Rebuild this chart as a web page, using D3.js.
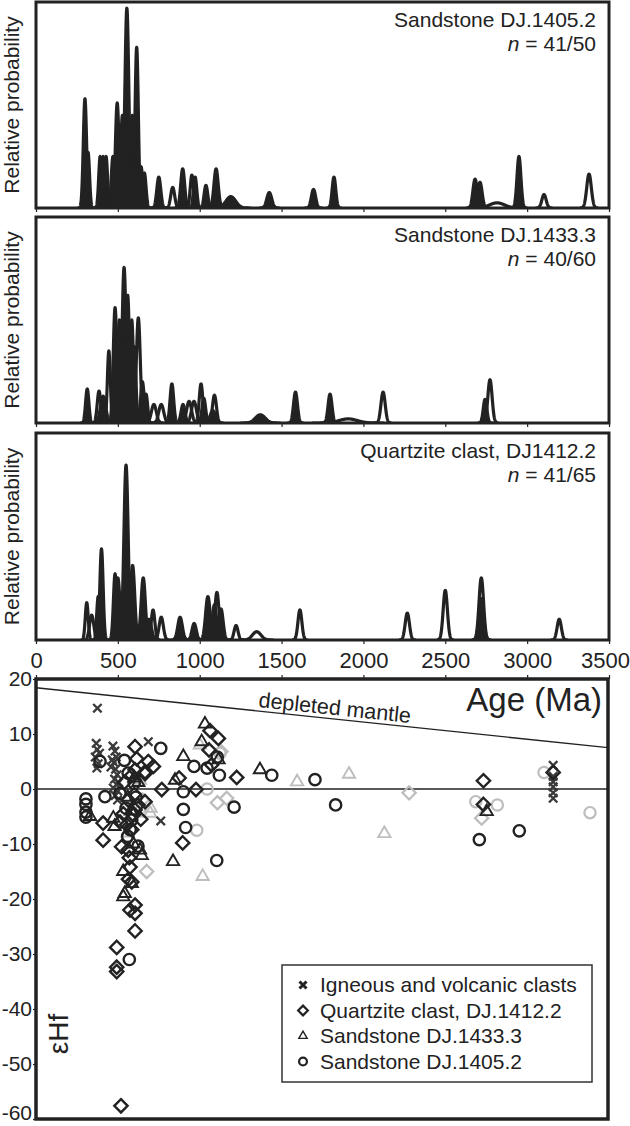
<!DOCTYPE html>
<html>
<head>
<meta charset="utf-8">
<script src="https://cdn.jsdelivr.net/npm/d3@7"></script>
<style>
  body { margin: 0; background: #fff; }
  svg text { font-family: "Liberation Sans", Arial, sans-serif; fill: #222; }
</style>
</head>
<body>
<svg id="chart" width="630" height="1126"></svg>
<script>
// ---- probability peaks, one bump per grain (age Ma, relative height, sigma Ma, filled?) ----
const ages1405 = [299, 318, 392, 410, 428, 470, 496, 528, 555, 588, 615, 642, 662, 750, 835, 896, 952, 972, 1038, 1100, 1190, 1425, 1695, 1820, 2682, 2712, 2816, 2950, 3103, 3378];
const heights1405 = [0.53, 0.27, 0.25, 0.25, 0.25, 0.25, 0.51, 0.45, 0.97, 0.45, 0.78, 0.2, 0.17, 0.15, 0.10, 0.19, 0.16, 0.15, 0.11, 0.19, 0.055, 0.075, 0.09, 0.15, 0.14, 0.125, 0.025, 0.25, 0.065, 0.165];
const sigmas1405 = [10, 9, 9, 9, 9, 10, 11, 11, 12, 10, 10, 10, 10, 12, 12, 12, 10, 10, 11, 13, 30, 15, 13, 11, 13, 13, 45, 12, 13, 14];
const filled1405 = [1, 1, 1, 1, 1, 1, 1, 1, 1, 1, 1, 1, 1, 1, 0, 1, 0, 1, 1, 1, 1, 1, 1, 1, 1, 1, 0, 1, 0, 0];

const ages1433 = [313, 385, 410, 445, 483, 510, 538, 560, 585, 600, 625, 650, 672, 720, 765, 830, 898, 935, 965, 1008, 1025, 1080, 1090, 1370, 1585, 1796, 1907, 2120, 2743, 2773];
const heights1433 = [0.165, 0.155, 0.13, 0.35, 0.56, 0.5, 0.755, 0.62, 0.5, 0.37, 0.51, 0.2, 0.14, 0.09, 0.09, 0.19, 0.09, 0.105, 0.105, 0.19, 0.12, 0.06, 0.135, 0.04, 0.15, 0.14, 0.02, 0.15, 0.115, 0.21];
const sigmas1433 = [10, 11, 16, 9, 11, 11, 12, 11, 10, 10, 12, 11, 10, 15, 15, 11, 12, 15, 15, 11, 11, 16, 12, 30, 12, 12, 55, 13, 11, 13];
const filled1433 = [1, 0, 1, 0, 1, 1, 1, 1, 1, 1, 0, 1, 1, 0, 0, 1, 1, 0, 0, 0, 1, 1, 0, 1, 1, 1, 0, 0, 1, 0];

const ages1412 = [310, 340, 380, 400, 483, 500, 550, 590, 655, 690, 715, 765, 880, 966, 1050, 1090, 1105, 1130, 1222, 1348, 1612, 2268, 2500, 2720, 2720, 3196];
const heights1412 = [0.18, 0.12, 0.21, 0.44, 0.32, 0.3, 0.845, 0.36, 0.3, 0.1, 0.145, 0.11, 0.11, 0.08, 0.21, 0.17, 0.23, 0.15, 0.07, 0.04, 0.145, 0.13, 0.24, 0.30, 0.2, 0.1];
const sigmas1412 = [9, 13, 9, 10, 10, 13, 13, 13, 13, 15, 11, 13, 14, 13, 14, 13, 13, 13, 12, 26, 12, 13, 13, 14, 14, 13];
const filled1412 = [0, 0, 0, 1, 0, 1, 1, 1, 1, 1, 0, 0, 1, 1, 1, 1, 0, 1, 0, 0, 0, 0, 0, 0, 1, 0];

const panelNames = ["Sandstone DJ.1405.2", "Sandstone DJ.1433.3", "Quartzite clast, DJ1412.2"];
const panelCounts = ["41/50", "40/60", "41/65"];

// ---- εHf scatter (age Ma, εHf) ----
const crossAge = [375, 368, 374, 362, 380, 372, 388, 470, 482, 490, 476, 486, 496, 466, 480, 492, 472, 500, 484, 458, 498, 505, 686, 762, 3159, 3159, 3159, 3159, 3159, 3159];
const crossHf = [14.7, 8.3, 7.2, 5.8, 4.6, 3.8, 6.5, 7.8, 6.9, 5.8, 4.8, 3.6, 2.6, 5.3, 1.8, 0.8, 0.2, -0.4, -1.2, 4.0, -2.0, 1.2, 8.6, -5.8, 4.3, 2.3, 1.3, 0.4, -0.7, -1.7];

const diamondAge = [605, 615, 686, 717, 666, 605, 585, 666, 1063, 1114, 1057, 1073, 1226, 874, 768, 977, 563, 623, 666, 605, 595, 533, 513, 554, 585, 640, 410, 410, 896, 523, 563, 570, 574, 565, 585, 574, 605, 605, 605, 493, 493, 493, 519, 2733, 2733, 3159, 540, 600];
const diamondHf = [7.7, 5.5, 5.0, 4.1, 3.1, 3.5, 2.5, 2.8, 10.6, 9.2, 7.1, 4.4, 2.1, 2.0, -0.1, -0.1, -2.0, -2.9, -2.3, -3.8, -4.7, -4.5, -6.0, -6.5, -7.4, -5.5, -6.2, -9.3, -9.8, -10.5, -11.1, -12.5, -14.2, -16.4, -16.9, -22.0, -21.1, -22.6, -25.8, -28.8, -32.4, -33.2, -57.6, 1.5, -2.8, 3.0, 1.2, -1.0];
const diamondGrayAge = [676, 1108, 1165, 2279, 2722, 1130, 650];
const diamondGrayHf = [-15.0, -2.5, -1.7, -0.7, -5.3, 6.8, -2.0];

const triAge = [1032, 1012, 900, 1115, 849, 1368, 2753, 330, 472, 480, 595, 635, 646, 837, 533, 585, 533, 542, 600, 560, 625, 580];
const triHf = [11.8, 8.6, 5.9, 5.3, 1.6, 3.5, -4.1, -5.0, -5.3, -6.8, -10.0, -11.1, -12.1, -13.2, -15.0, -17.2, -19.6, -19.0, 2.0, -1.5, 1.2, -4.0];
const triGrayAge = [1018, 1595, 1912, 2128, 697, 1000, 635, 560, 700];
const triGrayHf = [-15.9, 1.3, 2.7, -8.1, -4.4, 8.0, 1.6, -8.0, -3.5];

const circAge = [762, 391, 305, 305, 305, 305, 421, 513, 585, 575, 560, 623, 570, 965, 1045, 1120, 1107, 900, 900, 914, 1210, 1104, 1440, 1704, 1830, 2708, 2952, 563, 600, 550, 540, 610];
const circHf = [7.4, 5.0, -1.8, -2.8, -4.2, -5.1, -1.4, -0.8, -5.6, -7.4, -8.6, -10.4, -31.0, 4.1, 3.8, 2.5, 5.8, -0.5, -3.7, -7.0, -3.3, -13.0, 2.5, 1.7, -2.9, -9.2, -7.6, 2.9, 1.0, -3.5, 5.2, -1.5];
const circGrayAge = [1045, 982, 2686, 2818, 3103, 3384, 1124, 640];
const circGrayHf = [0.0, -7.5, -2.3, -2.9, 3.0, -4.3, 6.5, -4.0];

const mantleAge = [0, 3500];
const mantleHf = [18.4, 7.5];

const xTicks = [0, 500, 1000, 1500, 2000, 2500, 3000, 3500];
const hfTicks = [20, 10, 0, -10, -20, -30, -40, -50, -60];
const legendLabels = ["Igneous and volcanic clasts", "Quartzite clast, DJ.1412.2", "Sandstone DJ.1433.3", "Sandstone DJ.1405.2"];

// ---------------------------------------------------------------
const svg = d3.select("#chart");
const ink = "#222";
const gray = "#bdbdbd";
const fontFam = '"Liberation Sans", Arial, sans-serif';

const x = d3.scaleLinear().domain([0, 3500]).range([36, 609]);

const panelBoxes = [[2, 208], [217, 423], [433, 640]];
const panelData = [
  [ages1405, heights1405, sigmas1405, filled1405],
  [ages1433, heights1433, sigmas1433, filled1433],
  [ages1412, heights1412, sigmas1412, filled1412]
];

panelData.forEach(([ages, heights, sigmas, filled], i) => {
  const [top, bottom] = panelBoxes[i];
  const y = d3.scaleLinear().domain([0, 1]).range([bottom, top]);
  const g = svg.append("g");

  g.append("clipPath").attr("id", `clip-${i}`)
    .append("rect").attr("x", x(0)).attr("y", top).attr("width", x(3500) - x(0)).attr("height", bottom - top);

  const area = d3.area().x(d => x(d[0])).y0(y(0)).y1(d => y(d[1]));
  const line = d3.line().x(d => x(d[0])).y(d => y(d[1]));

  const grains = ages.map((a, k) => ({age: a, h: heights[k], s: sigmas[k], fill: filled[k]}));
  const bump = d => d3.range(-4, 4.001, 0.08).map(t => [d.age + t * d.s, d.h * Math.exp(-0.5 * t * t)]);

  const curves = g.append("g").attr("clip-path", `url(#clip-${i})`);
  // hollow grains first, solid ones over them
  curves.selectAll("path.hollow")
    .data(grains.filter(d => !d.fill))
    .join("path")
    .attr("class", "hollow")
    .attr("d", d => line(bump(d)))
    .attr("fill", "none")
    .attr("stroke", ink)
    .attr("stroke-width", 3.2)
    .attr("stroke-linejoin", "round");

  curves.selectAll("path.solid")
    .data(grains.filter(d => d.fill))
    .join("path")
    .attr("class", "solid")
    .attr("d", d => area(bump(d)))
    .attr("fill", ink)
    .attr("stroke", ink)
    .attr("stroke-width", 3.2)
    .attr("stroke-linejoin", "round");

  // ticks under the panel
  const ax = g.append("g").attr("transform", `translate(0,${bottom})`)
    .call(d3.axisBottom(x).tickValues(xTicks).tickSize(4).tickFormat(i === 2 ? d => d : ""));
  ax.select(".domain").remove();
  ax.selectAll("line").attr("stroke", ink).attr("stroke-width", 1.2);
  if (i === 2) {
    ax.selectAll("text")
      .attr("font-size", 22).attr("fill", ink).attr("y", 12)
      .attr("dx", d => d === 3500 ? -4 : 0)
      .style("font-family", fontFam);
  }

  g.append("rect")
    .attr("x", x(0)).attr("y", top)
    .attr("width", x(3500) - x(0)).attr("height", bottom - top)
    .attr("fill", "none").attr("stroke", ink).attr("stroke-width", 3);

  g.append("text")
    .attr("transform", `translate(19,${(top + bottom) / 2}) rotate(-90)`)
    .attr("text-anchor", "middle")
    .attr("font-size", 21)
    .text("Relative probability");

  g.append("text")
    .attr("x", 596).attr("y", top + 25)
    .attr("text-anchor", "end").attr("font-size", 21)
    .text(panelNames[i]);

  const nt = g.append("text")
    .attr("x", 596).attr("y", top + 49)
    .attr("text-anchor", "end").attr("font-size", 21);
  nt.append("tspan").attr("font-style", "italic").text("n");
  nt.append("tspan").text(" = " + panelCounts[i]);
});

// ---- scatter ----
const sTop = 679, sBottom = 1119, sLeft = 36, sRight = 608;
const yHf = d3.scaleLinear().domain([-60, 20]).range([sBottom, sTop]);

const sg = svg.append("g");
sg.append("clipPath").attr("id", "clip-s")
  .append("rect").attr("x", sLeft).attr("y", sTop).attr("width", sRight - sLeft).attr("height", sBottom - sTop);

const topAx = sg.append("g").attr("transform", `translate(0,${sTop})`)
  .call(d3.axisTop(x).tickValues(xTicks).tickSize(4).tickFormat(""));
topAx.select(".domain").remove();
topAx.selectAll("line").attr("stroke", ink).attr("stroke-width", 1.2);

const leftAx = sg.append("g").attr("transform", `translate(${sLeft},0)`)
  .call(d3.axisLeft(yHf).tickValues(hfTicks).tickSize(3).tickPadding(1).tickFormat(d => String(d)));
leftAx.select(".domain").remove();
leftAx.selectAll("line").attr("stroke", ink).attr("stroke-width", 1.2);
leftAx.selectAll("text").attr("font-size", 21).attr("fill", ink)
  .attr("dy", d => d === -60 ? "0em" : "0.32em")
  .style("font-family", fontFam);

const plot = sg.append("g").attr("clip-path", "url(#clip-s)");

// zero line and depleted mantle
plot.append("line")
  .attr("x1", sLeft).attr("x2", sRight).attr("y1", yHf(0)).attr("y2", yHf(0))
  .attr("stroke", ink).attr("stroke-width", 1.6);
plot.append("path")
  .datum(mantleAge.map((a, k) => [a, mantleHf[k]]))
  .attr("d", d3.line().x(d => x(d[0])).y(d => yHf(d[1])))
  .attr("stroke", ink).attr("stroke-width", 1.4).attr("fill", "none");

const slope = (yHf(mantleHf[1]) - yHf(mantleHf[0])) / (x(mantleAge[1]) - x(mantleAge[0]));
const angle = Math.atan(slope) * 180 / Math.PI;
const dmX = 258;
const dmY = yHf(mantleHf[0]) + slope * (dmX - x(0)) - 4;
sg.append("text")
  .attr("transform", `translate(${dmX},${dmY}) rotate(${angle})`)
  .attr("font-size", 21.5)
  .text("depleted mantle");

sg.append("text")
  .attr("x", 602).attr("y", 711)
  .attr("text-anchor", "end").attr("font-size", 33)
  .text("Age (Ma)");

sg.append("text")
  .attr("transform", "translate(68,1034) rotate(-90)")
  .attr("text-anchor", "middle").attr("font-size", 28)
  .text("εHf");

const symCircle = d3.symbol().type(d3.symbolCircle).size(100);
const symDiamond = d3.symbol().type(d3.symbolDiamond2).size(112);
const symTri = d3.symbol().type(d3.symbolTriangle2).size(108);
const symCross = d3.symbol().type(d3.symbolTimes).size(48);

function drawPoints(ages, hfs, gen, color, width) {
  plot.append("g").selectAll("path")
    .data(ages.map((a, k) => [a, hfs[k]]))
    .join("path")
    .attr("transform", d => `translate(${x(d[0])},${yHf(d[1])})`)
    .attr("d", gen())
    .attr("fill", "none")
    .attr("stroke", color)
    .attr("stroke-width", width);
}

drawPoints(diamondGrayAge, diamondGrayHf, symDiamond, gray, 2.2);
drawPoints(triGrayAge, triGrayHf, symTri, gray, 1.9);
drawPoints(circGrayAge, circGrayHf, symCircle, gray, 2.2);
drawPoints(crossAge, crossHf, symCross, "#3a3a3a", 2.3);
drawPoints(triAge, triHf, symTri, ink, 1.9);
drawPoints(circAge, circHf, symCircle, ink, 2.4);
drawPoints(diamondAge, diamondHf, symDiamond, ink, 2.4);

sg.append("rect")
  .attr("x", sLeft).attr("y", sTop)
  .attr("width", sRight - sLeft).attr("height", sBottom - sTop)
  .attr("fill", "none").attr("stroke", ink).attr("stroke-width", 3.5);

// ---- legend ----
const lg = svg.append("g");
lg.append("rect")
  .attr("x", 282).attr("y", 965).attr("width", 310).attr("height", 117)
  .attr("fill", "#fff").attr("stroke", "#333").attr("stroke-width", 1.5);

const legendSyms = [
  d3.symbol().type(d3.symbolTimes).size(34),
  d3.symbol().type(d3.symbolDiamond2).size(60),
  d3.symbol().type(d3.symbolTriangle2).size(50),
  d3.symbol().type(d3.symbolCircle).size(48)
];
const legendWidths = [3, 2.2, 1.4, 2.2];

legendLabels.forEach((label, k) => {
  const by = 992 + k * 25.5;
  lg.append("path")
    .attr("transform", `translate(303,${by - 7})`)
    .attr("d", legendSyms[k]())
    .attr("fill", "none").attr("stroke", ink).attr("stroke-width", legendWidths[k]);
  lg.append("text")
    .attr("x", 320).attr("y", by)
    .attr("font-size", 21)
    .text(label);
});
</script>
</body>
</html>
